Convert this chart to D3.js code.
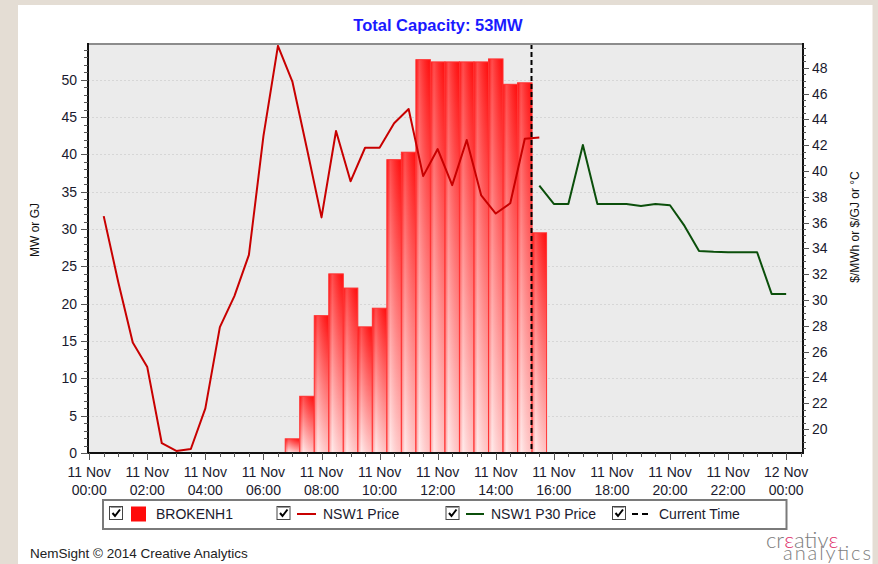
<!DOCTYPE html>
<html><head><meta charset="utf-8">
<script src="https://cdn.jsdelivr.net/npm/d3@7/dist/d3.min.js"></script>
<style>
html,body{margin:0;padding:0;background:#e4ddd4;}
svg{display:block;font-family:"Liberation Sans",Arial,sans-serif;}
</style>
</head><body>
<svg id="c" width="878" height="564"></svg>
<script>
// ---------- data ----------
const chartTitle = "Total Capacity: 53MW";
const barTimes = ["07:00","07:30","08:00","08:30","09:00","09:30","10:00","10:30","11:00","11:30","12:00","12:30","13:00","13:30","14:00","14:30","15:00","15:30"];
const barValues = [1.9,7.6,18.4,24.0,22.1,16.9,19.4,39.3,40.3,52.7,52.4,52.4,52.4,52.4,52.8,49.4,49.6,29.5];
const priceTimes = ["00:30","01:00","01:30","02:00","02:30","03:00","03:30","04:00","04:30","05:00","05:30","06:00","06:30","07:00","07:30","08:00","08:30","09:00","09:30","10:00","10:30","11:00","11:30","12:00","12:30","13:00","13:30","14:00","14:30","15:00","15:30"];
const priceValues = [36.5,31.4,26.7,24.8,18.9,18.3,18.45,21.6,27.9,30.3,33.5,42.7,49.7,46.9,41.7,36.4,43.1,39.2,41.8,41.8,43.7,44.8,39.6,41.7,38.9,42.4,38.1,36.7,37.5,42.5,42.6];
const p30Times = ["15:30","16:00","16:30","17:00","17:30","18:00","18:30","19:00","19:30","20:00","20:30","21:00","21:30","22:00","22:30","23:00","23:30","24:00"];
const p30Values = [38.86,37.44,37.44,42.02,37.44,37.44,37.44,37.29,37.44,37.34,35.74,33.8,33.73,33.7,33.7,33.7,30.47,30.47];
const currentTime = "15:12";
const xTickTimes = ["00:00","02:00","04:00","06:00","08:00","10:00","12:00","14:00","16:00","18:00","20:00","22:00","24:00"];
const leftTicks = [0,5,10,15,20,25,30,35,40,45,50];
const rightTicks = [20,22,24,26,28,30,32,34,36,38,40,42,44,46,48];
const leftTitle = "MW or GJ";
const rightTitle = "$/MWh or $/GJ or °C";
const legendLabels = ["BROKENH1","NSW1 Price","NSW1 P30 Price","Current Time"];
const footerText = "NemSight © 2014 Creative Analytics";

// ---------- layout ----------
const base = new Date(2014,10,11,0,0,0);
const toDate = s => { const [h,m] = s.split(":").map(Number); return new Date(base.getTime() + (h*60+m)*60000); };
const L = 88, R = 803, T = 44, B = 453;
const svg = d3.select("#c");

const x = d3.scaleTime()
  .domain([new Date(base.getTime() - 0.041*3600000), new Date(base.getTime() + 24.58*3600000)])
  .range([L, R]);
const yL = d3.scaleLinear().domain([0, 54.8]).range([B, T]);
const yR = d3.scaleLinear().domain([18.14, 49.84]).range([B, T]);

// panel
svg.append("rect").attr("x",0).attr("y",0).attr("width",878).attr("height",564).attr("fill","#e4ddd4");
svg.append("rect").attr("x",18).attr("y",5).attr("width",854.5).attr("height",560).attr("fill","#ffffff");

// defs
const defs = svg.append("defs");
const gv = defs.append("linearGradient").attr("id","barV").attr("x1",0).attr("y1",0).attr("x2",0).attr("y2",1);
gv.append("stop").attr("offset","0%").attr("stop-color","#ff1010");
gv.append("stop").attr("offset","100%").attr("stop-color","#ffe4e4");
const gh = defs.append("linearGradient").attr("id","barH").attr("x1",0).attr("y1",0).attr("x2",1).attr("y2",0);
gh.append("stop").attr("offset","0%").attr("stop-color","#ff0000").attr("stop-opacity",0.35);
gh.append("stop").attr("offset","25%").attr("stop-color","#ffffff").attr("stop-opacity",0.25);
gh.append("stop").attr("offset","100%").attr("stop-color","#ff0000").attr("stop-opacity",0.15);
defs.append("clipPath").attr("id","plotClip").append("rect").attr("x",L).attr("y",T).attr("width",R-L).attr("height",B-T);

// plot bg
svg.append("rect").attr("x",L).attr("y",T).attr("width",R-L).attr("height",B-T).attr("fill","#ebebeb");

// gridlines
svg.append("g").selectAll("line").data(leftTicks.filter(d=>d>0)).join("line")
  .attr("x1",L).attr("x2",R).attr("y1",d=>Math.round(yL(d))+0.5).attr("y2",d=>Math.round(yL(d))+0.5)
  .attr("stroke","#d6d6d6").attr("stroke-width",1).attr("stroke-dasharray","2,2");

const plot = svg.append("g").attr("clip-path","url(#plotClip)");

// bars
const halfHour = 30*60000;
const bars = plot.append("g");
barTimes.forEach((t,i) => {
  const d = toDate(t);
  const x0 = x(new Date(d.getTime() - halfHour/2)), x1 = x(new Date(d.getTime() + halfHour/2));
  const y0 = yL(barValues[i]);
  bars.append("rect").attr("x",x0).attr("y",y0).attr("width",x1-x0).attr("height",B-y0)
    .attr("fill","url(#barV)");
  bars.append("rect").attr("x",x0).attr("y",y0).attr("width",x1-x0).attr("height",B-y0)
    .attr("fill","url(#barH)").attr("stroke","#ff3333").attr("stroke-width",1);
});

// price lines
const linePrice = d3.line().x(d=>x(toDate(d[0]))).y(d=>yR(d[1]));
plot.append("path").datum(priceTimes.map((t,i)=>[t,priceValues[i]]))
  .attr("d",linePrice).attr("fill","none").attr("stroke","#c80000").attr("stroke-width",2).attr("stroke-linejoin","round");
plot.append("path").datum(p30Times.map((t,i)=>[t,p30Values[i]]))
  .attr("d",linePrice).attr("fill","none").attr("stroke","#0b4f0b").attr("stroke-width",2).attr("stroke-linejoin","round");

// current time
const cx = Math.round(x(toDate(currentTime)))+0.5;
svg.append("line").attr("x1",cx).attr("x2",cx).attr("y1",T).attr("y2",B)
  .attr("stroke","#000").attr("stroke-width",2).attr("stroke-dasharray","5,3");

// frame
svg.append("line").attr("x1",L).attr("x2",R).attr("y1",T).attr("y2",T).attr("stroke","#8c8c8c").attr("stroke-width",2);
svg.append("line").attr("x1",L).attr("x2",L).attr("y1",T-1).attr("y2",B+1).attr("stroke","#111").attr("stroke-width",2);
svg.append("line").attr("x1",R).attr("x2",R).attr("y1",T-1).attr("y2",B+1).attr("stroke","#111").attr("stroke-width",2);
svg.append("line").attr("x1",L-1).attr("x2",R+1).attr("y1",B).attr("y2",B).attr("stroke","#111").attr("stroke-width",2);

const tickCol = "#555";
const labCol = "#1a1a2e";

// left axis ticks
const lg = svg.append("g");
d3.range(0, 55, 1).forEach(v => {
  const yy = Math.round(yL(v))+0.5;
  const major = v % 5 === 0;
  lg.append("line").attr("x1", major ? L-7 : L-4).attr("x2",L).attr("y1",yy).attr("y2",yy)
    .attr("stroke",tickCol).attr("stroke-width",1);
});
lg.selectAll("text").data(leftTicks).join("text")
  .attr("x",77).attr("y",d=>yL(d)).attr("dy","0.36em").attr("text-anchor","end")
  .attr("font-size",14).attr("fill",labCol).text(d=>d);

// right axis ticks
const rg = svg.append("g");
d3.range(18.5, 49.8, 0.5).forEach(v => {
  const yy = Math.round(yR(v))+0.5;
  const major = Math.abs(v % 2) < 1e-6;
  rg.append("line").attr("x1",R).attr("x2", major ? R+6 : R+3).attr("y1",yy).attr("y2",yy)
    .attr("stroke",tickCol).attr("stroke-width",1);
});
rg.selectAll("text").data(rightTicks).join("text")
  .attr("x",812).attr("y",d=>yR(d)).attr("dy","0.36em").attr("text-anchor","start")
  .attr("font-size",14).attr("fill",labCol).text(d=>d);

// x axis ticks
const xg = svg.append("g");
d3.timeMinute.every(30).range(base, new Date(base.getTime()+24.6*3600000)).forEach(d => {
  const xx = Math.round(x(d))+0.5;
  const major = d.getMinutes()===0 && d.getHours()%2===0;
  xg.append("line").attr("x1",xx).attr("x2",xx).attr("y1",B).attr("y2", major ? B+7 : B+4)
    .attr("stroke",tickCol).attr("stroke-width",1);
});
const fDay = d3.timeFormat("%d %b"), fHM = d3.timeFormat("%H:%M");
xTickTimes.forEach(t => {
  const d = toDate(t);
  const xx = x(d);
  xg.append("text").attr("x",xx).attr("y",477).attr("text-anchor","middle").attr("font-size",14).attr("fill",labCol).text(fDay(d));
  xg.append("text").attr("x",xx).attr("y",495).attr("text-anchor","middle").attr("font-size",14).attr("fill",labCol).text(fHM(d));
});

// axis titles
svg.append("text").attr("transform","translate(39,230) rotate(-90)").attr("text-anchor","middle")
  .attr("font-size",12).attr("fill","#111").text(leftTitle);
svg.append("text").attr("transform","translate(859,227) rotate(-90)").attr("text-anchor","middle")
  .attr("font-size",12).attr("fill","#111").text(rightTitle);

// title
svg.append("text").attr("x",438).attr("y",30.5).attr("text-anchor","middle")
  .attr("font-size",16.5).attr("font-weight","bold").attr("fill","#1a1aff").text(chartTitle);

// legend
const lgd = svg.append("g");
lgd.append("rect").attr("x",103).attr("y",500).attr("width",683.5).attr("height",29)
  .attr("fill","#fff").attr("stroke","#7a7a7a").attr("stroke-width",2);
const checkX = [109.5, 277, 446, 612.5];
const textX = [156, 323, 491, 659];
checkX.forEach(cx0 => {
  lgd.append("rect").attr("x",cx0).attr("y",506.5).attr("width",13).attr("height",13)
    .attr("fill","#fff").attr("stroke","#444").attr("stroke-width",1);
  lgd.append("line").attr("x1",cx0+1).attr("x2",cx0+12).attr("y1",507.5).attr("y2",507.5).attr("stroke","#999");
  lgd.append("path").attr("d",`M${cx0+3},${513} L${cx0+5.5},${516} L${cx0+10.5},${509.5}`)
    .attr("fill","none").attr("stroke","#000").attr("stroke-width",2);
});
lgd.append("rect").attr("x",131).attr("y",506.5).attr("width",15).attr("height",15).attr("fill","#ff0a0a");
lgd.append("line").attr("x1",297).attr("x2",316).attr("y1",514).attr("y2",514).attr("stroke","#c80000").attr("stroke-width",2);
lgd.append("line").attr("x1",466).attr("x2",484).attr("y1",514).attr("y2",514).attr("stroke","#0b4f0b").attr("stroke-width",2);
lgd.append("line").attr("x1",632).attr("x2",651).attr("y1",514).attr("y2",514).attr("stroke","#000").attr("stroke-width",2).attr("stroke-dasharray","6,4");
legendLabels.forEach((s,i) => {
  lgd.append("text").attr("x",textX[i]).attr("y",519).attr("font-size",14).attr("fill",labCol).text(s);
});

// footer
svg.append("text").attr("x",30).attr("y",558).attr("font-size",13.5).attr("fill","#222").text(footerText);

// logo (one text element, two lines)
const logo = svg.append("text").attr("font-family","Lato, 'Open Sans', sans-serif").attr("font-weight",300).attr("fill","#7d7d7d");
logo.append("tspan").attr("x",766).attr("y",548).attr("font-size",22).text("cr");
logo.append("tspan").attr("font-size",22).attr("fill","#e0336b").text("ε");
logo.append("tspan").attr("font-size",22).text("ativ");
logo.append("tspan").attr("font-size",22).attr("fill","#e0336b").text("ε");
logo.append("tspan").attr("x",783).attr("y",560).attr("font-size",20)
  .attr("textLength",88).attr("lengthAdjust","spacing").text("analytics");
</script>
</body></html>
